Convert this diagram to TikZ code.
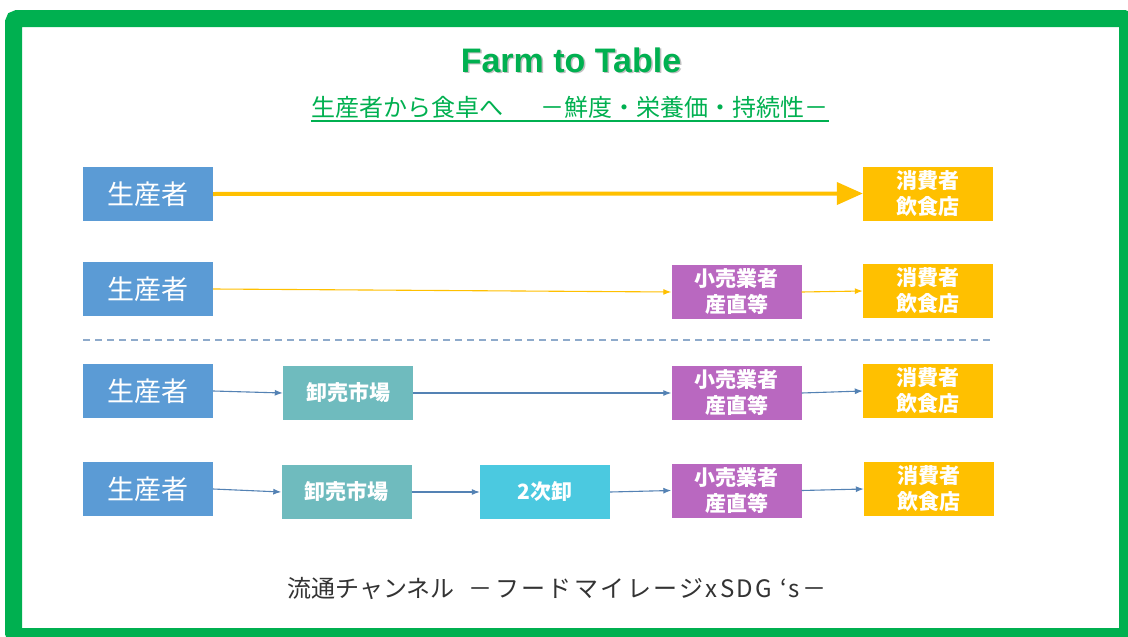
\documentclass[tikz,border=0pt]{standalone}
\usepackage{fontspec}
\setmainfont{Noto Sans CJK JP}
\newfontfamily\titlefont{Liberation Sans}
\newfontfamily\spacedjp[LetterSpace=10]{Noto Sans CJK JP}
\usetikzlibrary{arrows.meta}
\definecolor{framegreen}{RGB}{0,176,80}
\definecolor{prodblue}{RGB}{91,155,213}
\definecolor{teal}{RGB}{111,187,190}
\definecolor{cyanbox}{RGB}{75,201,224}
\definecolor{purplebox}{RGB}{185,104,192}
\definecolor{goldbox}{RGB}{255,192,0}
\definecolor{steel}{RGB}{84,130,180}
\definecolor{dashc}{RGB}{142,170,203}
\definecolor{darktext}{RGB}{51,51,51}
\tikzset{
  box/.style={minimum width=130pt, minimum height=54pt, inner sep=0pt, text=white, align=center},
  prodbox/.style={box, fill=prodblue, font=\fontsize{27}{30}\selectfont},
  smallbox/.style={box, font=\bfseries\fontsize{21}{26}\selectfont},
  thinarrow/.style={line width=1.1pt, -{Latex[length=8pt,width=6pt]}},
  bigarrow/.style={line width=4pt, -{Triangle[length=26pt,width=22pt]}}
}
\begin{document}
\begin{tikzpicture}[x=1pt,y=-1pt]
\useasboundingbox (0,0) rectangle (1128,637);
\clip (0,0) rectangle (1128,637);
\fill[white] (0,0) rectangle (1128,637);
\draw[line width=17pt, framegreen, rounded corners=4pt] (13.5,18.5) rectangle (1127.5,636.5);

% title
\node (title) at (572.5,61.5) {\titlefont\bfseries\fontsize{34}{38}\selectfont\textcolor{black!25}{Farm to Table}};
\node (title2) at (571,60) {\titlefont\bfseries\fontsize{34}{38}\selectfont\textcolor{framegreen}{Farm to Table}};
\node[text=framegreen, font=\fontsize{24}{28}\selectfont, inner sep=0pt] (sub) at (570,107) {生産者から食卓へ\hspace{38pt}－鮮度・栄養価・持続性－};
\draw[framegreen, line width=1.3pt] ([yshift=-5pt]sub.base west) -- ([yshift=-5pt]sub.base east);

% row 1
\node[prodbox] (p1) at (148,194) {生産者};
\node[smallbox, fill=goldbox] (c1) at (928,193.5) {消費者\\飲食店};
\draw[bigarrow, goldbox] (p1.east) -- (c1.west);

% row 2
\node[prodbox] (p2) at (148,289) {生産者};
\node[smallbox, fill=purplebox] (r2) at (736.5,292) {小売業者\\産直等};
\node[smallbox, fill=goldbox] (c2) at (928,291) {消費者\\飲食店};
\draw[thinarrow, goldbox] (p2.east) -- (r2.west);
\draw[thinarrow, goldbox] (r2.east) -- (c2.west);

% dashed separator
\coordinate (dl) at (83,340);
\coordinate (dr) at (993,340);
\draw[dashc, line width=1.6pt, dash pattern=on 7pt off 5pt] (dl) -- (dr);

% row 3
\node[prodbox] (p3) at (148,391) {生産者};
\node[smallbox, fill=teal] (w3) at (348,393) {卸売市場};
\node[smallbox, fill=purplebox] (r3) at (736.5,393) {小売業者\\産直等};
\node[smallbox, fill=goldbox] (c3) at (928,391) {消費者\\飲食店};
\draw[thinarrow, steel] (p3.east) -- (w3.west);
\draw[thinarrow, steel] (w3.east) -- (r3.west);
\draw[thinarrow, steel] (r3.east) -- (c3.west);

% row 4
\node[prodbox] (p4) at (148,489) {生産者};
\node[smallbox, fill=teal] (w4) at (346.5,492) {卸売市場};
\node[smallbox, fill=cyanbox] (s4) at (545,492) {2次卸};
\node[smallbox, fill=purplebox] (r4) at (736.5,490.5) {小売業者\\産直等};
\node[smallbox, fill=goldbox] (c4) at (929,489) {消費者\\飲食店};
\draw[thinarrow, steel] (p4.east) -- (w4.west);
\draw[thinarrow, steel] (w4.east) -- (s4.west);
\draw[thinarrow, steel] (s4.east) -- (r4.west);
\draw[thinarrow, steel] (r4.east) -- (c4.west);

% bottom caption
\node[text=darktext, font=\fontsize{24}{28}\selectfont] (cap) at (557,588) {流通チャンネル\hspace{14pt}{\spacedjp －フードマイレージxSDG ‘s－}};
\end{tikzpicture}
\end{document}
